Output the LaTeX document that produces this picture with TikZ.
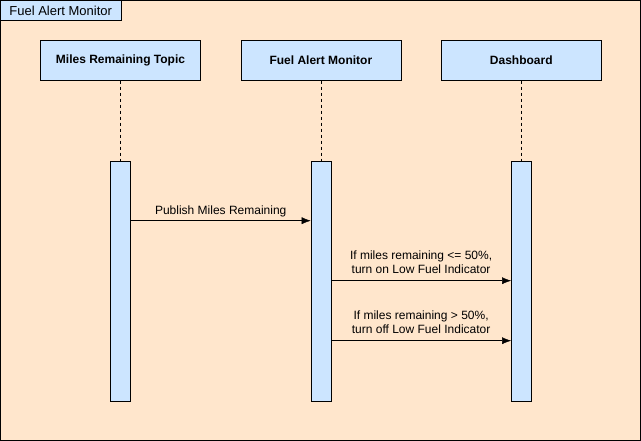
\documentclass[tikz,border=0pt]{standalone}
\usepackage{fontspec}
\setmainfont{Liberation Sans}
\usetikzlibrary{arrows.meta, positioning}
\definecolor{peach}{HTML}{FFE6CC}
\definecolor{paleblue}{HTML}{CCE5FF}
\tikzstyle{frame} = [draw=black, fill=peach]
\tikzstyle{tab} = [rectangle, minimum width=120pt, minimum height=20pt, inner sep=0pt, text centered, draw=black, fill=paleblue, font=\fontsize{13}{15}\selectfont]
\tikzstyle{header} = [rectangle, minimum width=160pt, minimum height=40pt, text centered, draw=black, fill=paleblue, font=\fontsize{12}{14}\selectfont\bfseries]
\tikzstyle{bar} = [rectangle, minimum width=20pt, minimum height=240pt, inner sep=0pt, draw=black, fill=paleblue]
\tikzstyle{lifeline} = [dashed, black]
\tikzstyle{arrow} = [->, >={Latex[length=9pt, width=7pt]}]
\tikzstyle{msg} = [above, align=center, inner sep=4pt, font=\fontsize{12}{14}\selectfont]

\begin{document}
\begin{tikzpicture}[x=1pt, y=-1pt, node distance=40pt]
    \useasboundingbox (-0.5,-0.5) rectangle (640.5,440.5);
    \draw [frame] (0,0) rectangle (640,440);
    \node (title) [tab, anchor=north west] at (0,0) {Fuel Alert Monitor};

    \node (topic) [header] at (120,60) {Miles Remaining Topic};
    \node (monitor) [header, right=of topic] {Fuel Alert Monitor};
    \node (dash) [header, right=of monitor] {Dashboard};

    \node (topicbar) [bar, below=80pt of topic] {};
    \node (monitorbar) [bar, below=80pt of monitor] {};
    \node (dashbar) [bar, below=80pt of dash] {};

    \draw [lifeline] (topic) -- (topicbar);
    \draw [lifeline] (monitor) -- (monitorbar);
    \draw [lifeline] (dash) -- (dashbar);

    \draw [arrow] ([yshift=-60pt]topicbar.north east) -- ([yshift=-60pt]monitorbar.north west)
        node [msg, midway] {Publish Miles Remaining};
    \draw [arrow] ([yshift=-120pt]monitorbar.north east) -- ([yshift=-120pt]dashbar.north west)
        node [msg, midway, yshift=3pt] {If miles remaining <= 50\%,\\turn on Low Fuel Indicator};
    \draw [arrow] ([yshift=-180pt]monitorbar.north east) -- ([yshift=-180pt]dashbar.north west)
        node [msg, midway, yshift=3pt] {If miles remaining > 50\%,\\turn off Low Fuel Indicator};
\end{tikzpicture}
\end{document}
